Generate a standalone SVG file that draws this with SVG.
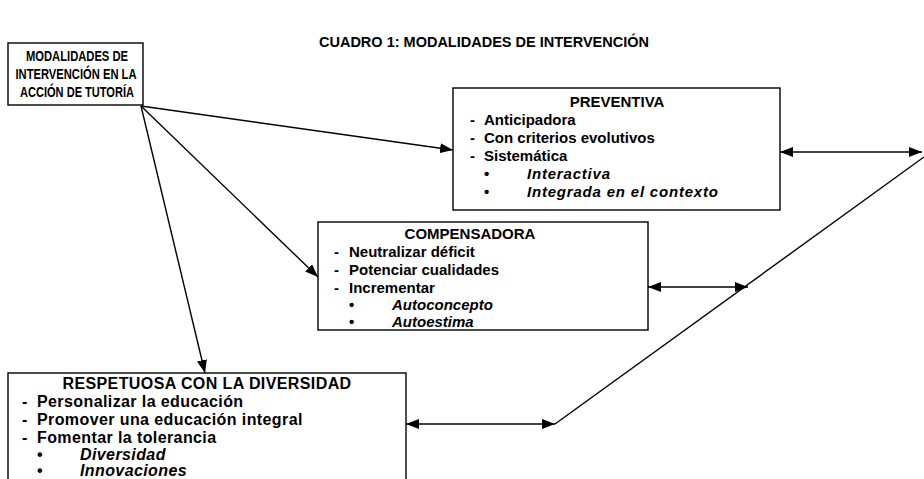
<svg xmlns="http://www.w3.org/2000/svg" width="924" height="479" viewBox="0 0 924 479">
<style>
text{font-family:"Liberation Sans",Arial,sans-serif;font-size:15px;font-weight:bold;fill:#000}
.t{font-size:14.5px}
.b1{font-size:15px}
.r{font-size:16px;letter-spacing:0.4px}
.i{font-style:italic}
.w{letter-spacing:0.8px}
.c{text-anchor:middle}
rect{fill:#fff;stroke:#000;stroke-width:1.4}
.ln{stroke:#000;stroke-width:1.4;fill:none}
</style>
<defs>
<marker id="ah" viewBox="0 0 13 10" refX="13" refY="5" markerWidth="13" markerHeight="10" markerUnits="userSpaceOnUse" orient="auto-start-reverse"><path d="M0,0 L13,5 L0,10 Z" fill="#000"/></marker>
</defs>
<rect width="924" height="479" style="stroke:none"/>
<text class="t c" x="484" y="47">CUADRO 1: MODALIDADES DE INTERVENCIÓN</text>
<g id="modalidades">
<rect x="8" y="43" width="135" height="62"/>
<text class="b1 c" x="77" y="61" textLength="102" lengthAdjust="spacingAndGlyphs">MODALIDADES DE</text>
<text class="b1 c" x="76" y="79" textLength="121" lengthAdjust="spacingAndGlyphs">INTERVENCIÓN EN LA</text>
<text class="b1 c" x="77" y="97" textLength="114" lengthAdjust="spacingAndGlyphs">ACCIÓN DE TUTORÍA</text>
</g>
<g id="preventiva">
<rect x="453" y="88" width="327" height="122"/>
<text class="c" x="617" y="107">PREVENTIVA</text>
<text x="470" y="125">-</text><text x="484" y="125">Anticipadora</text>
<text x="470" y="143">-</text><text x="484" y="143">Con criterios evolutivos</text>
<text x="470" y="161">-</text><text x="484" y="161">Sistemática</text>
<text x="484" y="179">•</text><text class="i w" x="527" y="179">Interactiva</text>
<text x="484" y="197">•</text><text class="i w" x="527" y="197">Integrada en el contexto</text>
</g>
<g id="compensadora">
<rect x="318" y="222" width="330" height="108"/>
<text class="c" x="470" y="239">COMPENSADORA</text>
<text x="334" y="257">-</text><text x="349" y="257">Neutralizar déficit</text>
<text x="334" y="275">-</text><text x="349" y="275">Potenciar cualidades</text>
<text x="334" y="293">-</text><text x="349" y="293">Incrementar</text>
<text x="349" y="310">•</text><text class="i" x="392" y="310">Autoconcepto</text>
<text x="349" y="327">•</text><text class="i" x="392" y="327">Autoestima</text>
</g>
<g id="respetuosa">
<rect x="8" y="373" width="398" height="112"/>
<text class="r c" x="207" y="389">RESPETUOSA CON LA DIVERSIDAD</text>
<text class="r" x="22" y="407">-</text><text class="r" x="37" y="407">Personalizar la educación</text>
<text class="r" x="22" y="425">-</text><text class="r" x="37" y="425">Promover una educación integral</text>
<text class="r" x="22" y="443">-</text><text class="r" x="37" y="443">Fomentar la tolerancia</text>
<text class="r" x="37" y="460">•</text><text class="r i" x="80" y="460">Diversidad</text>
<text class="r" x="37" y="476">•</text><text class="r i" x="80" y="476">Innovaciones</text>
</g>
<g id="connectors">
<line class="ln" x1="141" y1="106" x2="453" y2="150" marker-end="url(#ah)"/>
<line class="ln" x1="141" y1="106" x2="318" y2="277" marker-end="url(#ah)"/>
<line class="ln" x1="141" y1="106" x2="205" y2="373" marker-end="url(#ah)"/>
<line class="ln" x1="780" y1="152" x2="922" y2="152" marker-start="url(#ah)" marker-end="url(#ah)"/>
<line class="ln" x1="648" y1="287" x2="748" y2="287" marker-start="url(#ah)" marker-end="url(#ah)"/>
<line class="ln" x1="406" y1="424" x2="555" y2="424" marker-start="url(#ah)" marker-end="url(#ah)"/>
<polyline class="ln" points="555,424 924,157"/>
</g>
</svg>
